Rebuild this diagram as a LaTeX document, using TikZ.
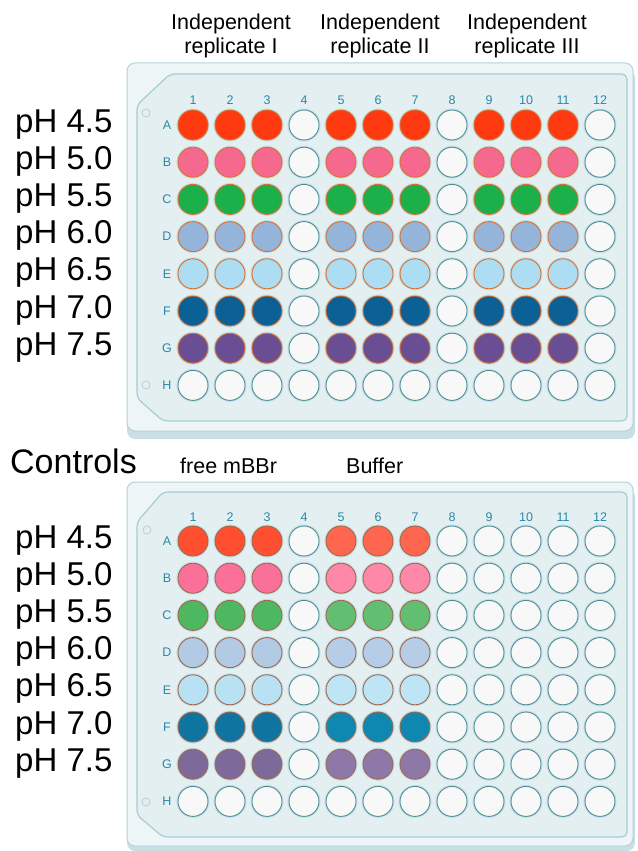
\documentclass[tikz,border=0pt]{standalone}
\usepackage{fontspec}
\setmainfont{Liberation Sans}
\definecolor{topA}{HTML}{FF3A10}
\definecolor{topB}{HTML}{F5698F}
\definecolor{topC}{HTML}{1BB04A}
\definecolor{topD}{HTML}{94B4DA}
\definecolor{topE}{HTML}{ADDDF3}
\definecolor{topF}{HTML}{0B6096}
\definecolor{topG}{HTML}{6A4E93}
\definecolor{botA}{HTML}{FF4F30}
\definecolor{botB}{HTML}{FA7099}
\definecolor{botC}{HTML}{4DB860}
\definecolor{botD}{HTML}{B2CAE4}
\definecolor{botE}{HTML}{B8E2F4}
\definecolor{botF}{HTML}{0F74A0}
\definecolor{botG}{HTML}{7E6A9A}
\definecolor{botlA}{HTML}{FF6650}
\definecolor{botlB}{HTML}{FD88A8}
\definecolor{botlC}{HTML}{62BF72}
\definecolor{botlD}{HTML}{B5CDE6}
\definecolor{botlE}{HTML}{BDE5F6}
\definecolor{botlF}{HTML}{0E88B0}
\definecolor{botlG}{HTML}{8E78A8}
\definecolor{topedge}{HTML}{D9702E}
\definecolor{botedge}{HTML}{A0684E}
\definecolor{emptyfill}{HTML}{F8F8F8}
\definecolor{emptyedge}{HTML}{4D8E98}
\definecolor{halo}{HTML}{C6E0E6}
\definecolor{plateouterfill}{HTML}{EEF5F6}
\definecolor{plateouteredge}{HTML}{B3D2D9}
\definecolor{plateinnerfill}{HTML}{E3EFF1}
\definecolor{plateinneredge}{HTML}{A6CCD4}
\definecolor{plateshadowfill}{HTML}{CADFE4}
\definecolor{labteal}{HTML}{2B88A8}
\begin{document}
\begin{tikzpicture}[x=1pt,y=-1pt,
  wellbase/.style={circle, inner sep=0pt, minimum size=30pt, line width=0.9pt,
    preaction={draw=halo, line width=3pt}},
  emptywell/.style={wellbase, draw=emptyedge, fill=emptyfill},
  topwell/.style={wellbase, draw=topedge, fill=#1},
  botwell/.style={wellbase, draw=botedge, fill=#1},
  platelab/.style={text=labteal, font=\fontsize{12.5}{14}\selectfont, inner sep=0pt},
  phlab/.style={anchor=base west, inner sep=0pt, font=\fontsize{33}{38}\selectfont},
  headlab/.style={anchor=base, inner sep=0pt, font=\fontsize{21.5}{24}\selectfont},
  hole/.style={circle, draw=plateouteredge, fill=plateinnerfill, line width=0.8pt, inner sep=0pt, minimum size=8pt},
  outerplate/.style={fill=plateouterfill, draw=plateouteredge, line width=1pt, rounded corners=8pt},
  innerplate/.style={fill=plateinnerfill, draw=plateinneredge, line width=1.2pt, rounded corners=5pt},
  shadowplate/.style={fill=plateshadowfill, rounded corners=8pt}
]
\useasboundingbox (0,0) rectangle (637,851);
\fill[white] (0,0) rectangle (637,851);

% ---------- headers ----------
\node[headlab] (h1a) at (231,30) {Independent};
\node[headlab] (h1b) at (231,53) {replicate I};
\node[headlab] (h2a) at (380,30) {Independent};
\node[headlab] (h2b) at (380,53) {replicate II};
\node[headlab] (h3a) at (527,30) {Independent};
\node[headlab] (h3b) at (527,53) {replicate III};

% ---------- top plate ----------
\path[shadowplate] (127,70) rectangle (635,439);
\path[outerplate] (127,63) rectangle (633,431);
\path[innerplate] (137,105) -- (170,74) -- (627,74) -- (627,421) -- (163,421) -- (137,398) -- cycle;
\node[hole] (th1) at (146,113) {};
\node[hole] (th2) at (146,385) {};

\foreach \c in {1,...,12}{
  \node[platelab] (tn\c) at ({193+37*(\c-1)},100) {\c};
}
\foreach \r [count=\i from 0] in {A,B,C,D,E,F,G,H}{
  \node[platelab] (tl\r) at (167,{125+37.2*\i}) {\r};
  \foreach \c in {1,...,12}{
    \pgfmathtruncatemacro\filled{and(\i<7, mod(\c,4)!=0)}
    \ifnum\filled=1
      \node[topwell=top\r] (t\r\c) at ({193+37*(\c-1)},{125+37.2*\i}) {};
    \else
      \node[emptywell] (t\r\c) at ({193+37*(\c-1)},{125+37.2*\i}) {};
    \fi
  }
}

% ---------- bottom plate ----------
\path[shadowplate] (127,489) rectangle (635,851);
\path[outerplate] (127,482) rectangle (633,846);
\path[innerplate] (137,522) -- (163,492) -- (627,492) -- (627,837) -- (163,837) -- (137,815) -- cycle;
\node[hole] (bh1) at (147,530) {};
\node[hole] (bh2) at (146,802) {};

\foreach \c in {1,...,12}{
  \node[platelab] (bn\c) at ({193+37*(\c-1)},517) {\c};
}
\foreach \r [count=\i from 0] in {A,B,C,D,E,F,G,H}{
  \node[platelab] (bl\r) at (167,{541+37.2*\i}) {\r};
  \foreach \c in {1,...,12}{
    \pgfmathtruncatemacro\filled{and(\i<7, and(\c<8, \c!=4))}
    \ifnum\filled=1
      \ifnum\c<4
        \node[botwell=bot\r] (b\r\c) at ({193+37*(\c-1)},{541+37.2*\i}) {};
      \else
        \node[botwell=botl\r] (b\r\c) at ({193+37*(\c-1)},{541+37.2*\i}) {};
      \fi
    \else
      \node[emptywell] (b\r\c) at ({193+37*(\c-1)},{541+37.2*\i}) {};
    \fi
  }
}

% ---------- pH labels ----------
\foreach \t [count=\i from 0] in {4.5,5.0,5.5,6.0,6.5,7.0,7.5}{
  \node[phlab] (tp\i) at (15,{125+37.2*\i+7}) {pH \t};
  \node[phlab] (bp\i) at (15,{541+37.2*\i+7}) {pH \t};
}

% ---------- control labels ----------
\node[anchor=base west, inner sep=0pt, font=\fontsize{34}{38}\selectfont] (ctrl) at (10,473) {Controls};
\node[anchor=base west, inner sep=0pt, font=\fontsize{21.5}{24}\selectfont] (free) at (180,473) {free mBBr};
\node[anchor=base west, inner sep=0pt, font=\fontsize{21.5}{24}\selectfont] (buf) at (346,473) {Buffer};
\end{tikzpicture}
\end{document}
